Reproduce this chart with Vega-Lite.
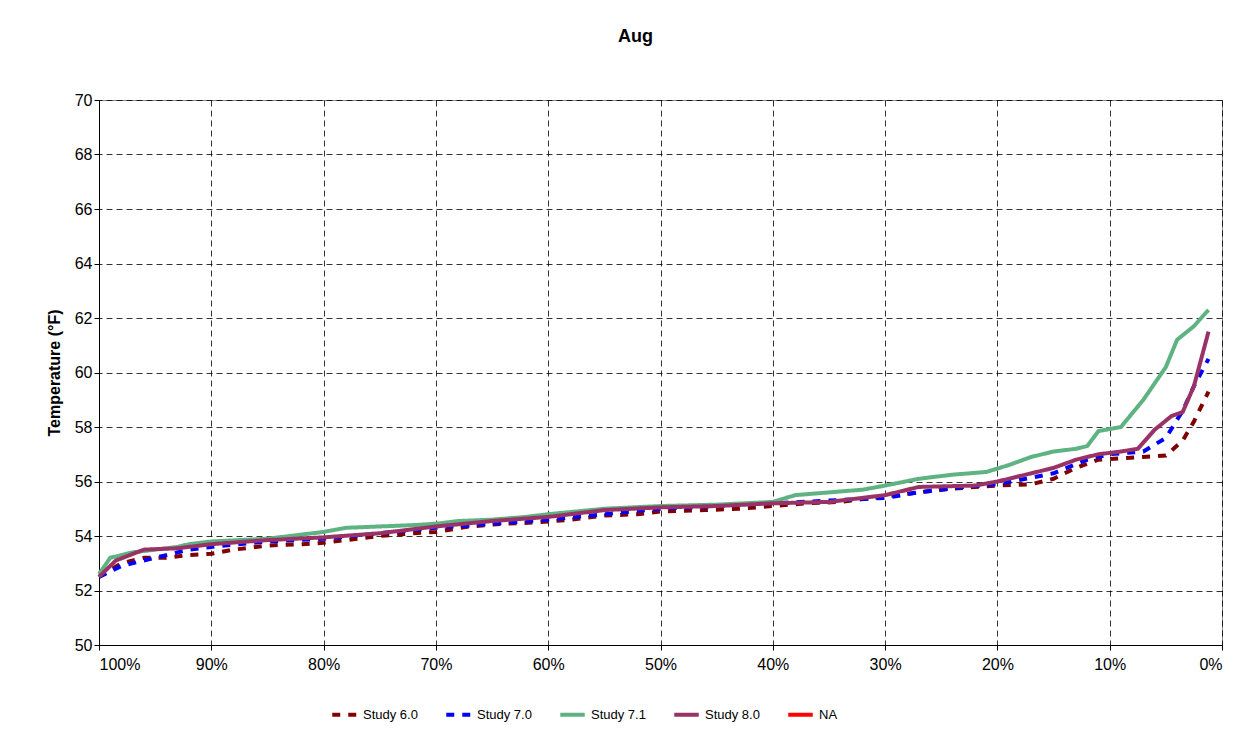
{"$schema":"https://vega.github.io/schema/vega-lite/v6.json","width":1123,"height":545,"autosize":"none","padding":{"left":99,"top":100,"right":38,"bottom":90},
"background":"white",
"title":{"text":"Aug","font":"Liberation Sans","fontSize":18,"fontWeight":"bold","offset":46,"dx":-25,"color":"black"},
"config":{"view":{"stroke":"#888"},"font":"Liberation Sans"},
"data":{"values":[
{"s":"Study 6.0","p":100,"t":52.5},{"s":"Study 6.0","p":98,"t":53.0},{"s":"Study 6.0","p":96,"t":53.2},{"s":"Study 6.0","p":94,"t":53.2},{"s":"Study 6.0","p":92,"t":53.3},{"s":"Study 6.0","p":90,"t":53.35},{"s":"Study 6.0","p":88,"t":53.5},{"s":"Study 6.0","p":85,"t":53.65},{"s":"Study 6.0","p":82,"t":53.7},{"s":"Study 6.0","p":80,"t":53.75},{"s":"Study 6.0","p":78,"t":53.85},{"s":"Study 6.0","p":75,"t":54.0},{"s":"Study 6.0","p":72,"t":54.1},{"s":"Study 6.0","p":70,"t":54.15},{"s":"Study 6.0","p":67,"t":54.35},{"s":"Study 6.0","p":64,"t":54.45},{"s":"Study 6.0","p":61,"t":54.5},{"s":"Study 6.0","p":58,"t":54.6},{"s":"Study 6.0","p":55,"t":54.75},{"s":"Study 6.0","p":52,"t":54.8},{"s":"Study 6.0","p":50,"t":54.9},{"s":"Study 6.0","p":46,"t":54.95},{"s":"Study 6.0","p":43,"t":55.0},{"s":"Study 6.0","p":40,"t":55.1},{"s":"Study 6.0","p":37,"t":55.2},{"s":"Study 6.0","p":34,"t":55.25},{"s":"Study 6.0","p":31,"t":55.4},{"s":"Study 6.0","p":28,"t":55.55},{"s":"Study 6.0","p":25,"t":55.7},{"s":"Study 6.0","p":22,"t":55.8},{"s":"Study 6.0","p":20,"t":55.85},{"s":"Study 6.0","p":17,"t":55.9},{"s":"Study 6.0","p":15,"t":56.1},{"s":"Study 6.0","p":13,"t":56.5},{"s":"Study 6.0","p":11,"t":56.8},{"s":"Study 6.0","p":9,"t":56.85},{"s":"Study 6.0","p":7,"t":56.9},{"s":"Study 6.0","p":5,"t":56.95},{"s":"Study 6.0","p":3.5,"t":57.5},{"s":"Study 6.0","p":2.5,"t":58.2},{"s":"Study 6.0","p":1.2,"t":59.3},
{"s":"Study 7.0","p":100,"t":52.5},{"s":"Study 7.0","p":98,"t":52.9},{"s":"Study 7.0","p":96,"t":53.1},{"s":"Study 7.0","p":94,"t":53.3},{"s":"Study 7.0","p":92,"t":53.5},{"s":"Study 7.0","p":90,"t":53.6},{"s":"Study 7.0","p":85,"t":53.8},{"s":"Study 7.0","p":80,"t":53.9},{"s":"Study 7.0","p":75,"t":54.1},{"s":"Study 7.0","p":70,"t":54.3},{"s":"Study 7.0","p":65,"t":54.45},{"s":"Study 7.0","p":60,"t":54.6},{"s":"Study 7.0","p":55,"t":54.8},{"s":"Study 7.0","p":50,"t":55.0},{"s":"Study 7.0","p":45,"t":55.1},{"s":"Study 7.0","p":40,"t":55.2},{"s":"Study 7.0","p":35,"t":55.3},{"s":"Study 7.0","p":30,"t":55.4},{"s":"Study 7.0","p":27,"t":55.6},{"s":"Study 7.0","p":23,"t":55.8},{"s":"Study 7.0","p":20,"t":55.9},{"s":"Study 7.0","p":15,"t":56.3},{"s":"Study 7.0","p":12,"t":56.8},{"s":"Study 7.0","p":10,"t":57.0},{"s":"Study 7.0","p":7,"t":57.1},{"s":"Study 7.0","p":5,"t":57.6},{"s":"Study 7.0","p":3.5,"t":58.6},{"s":"Study 7.0","p":2.5,"t":59.5},{"s":"Study 7.0","p":1.2,"t":60.5},
{"s":"Study 7.1","p":100,"t":52.6},{"s":"Study 7.1","p":99,"t":53.2},{"s":"Study 7.1","p":97,"t":53.4},{"s":"Study 7.1","p":95,"t":53.5},{"s":"Study 7.1","p":93,"t":53.6},{"s":"Study 7.1","p":92,"t":53.7},{"s":"Study 7.1","p":90,"t":53.8},{"s":"Study 7.1","p":85,"t":53.9},{"s":"Study 7.1","p":83,"t":54.0},{"s":"Study 7.1","p":80,"t":54.15},{"s":"Study 7.1","p":78,"t":54.3},{"s":"Study 7.1","p":75,"t":54.35},{"s":"Study 7.1","p":72,"t":54.4},{"s":"Study 7.1","p":70,"t":54.45},{"s":"Study 7.1","p":68,"t":54.55},{"s":"Study 7.1","p":65,"t":54.6},{"s":"Study 7.1","p":62,"t":54.7},{"s":"Study 7.1","p":60,"t":54.8},{"s":"Study 7.1","p":55,"t":55.0},{"s":"Study 7.1","p":50,"t":55.1},{"s":"Study 7.1","p":45,"t":55.15},{"s":"Study 7.1","p":40,"t":55.25},{"s":"Study 7.1","p":38,"t":55.5},{"s":"Study 7.1","p":35,"t":55.6},{"s":"Study 7.1","p":32,"t":55.7},{"s":"Study 7.1","p":30,"t":55.85},{"s":"Study 7.1","p":27,"t":56.1},{"s":"Study 7.1","p":24,"t":56.25},{"s":"Study 7.1","p":21,"t":56.35},{"s":"Study 7.1","p":19,"t":56.6},{"s":"Study 7.1","p":17,"t":56.9},{"s":"Study 7.1","p":15,"t":57.1},{"s":"Study 7.1","p":13,"t":57.2},{"s":"Study 7.1","p":12,"t":57.3},{"s":"Study 7.1","p":11,"t":57.85},{"s":"Study 7.1","p":9,"t":58.0},{"s":"Study 7.1","p":8,"t":58.5},{"s":"Study 7.1","p":7,"t":59.0},{"s":"Study 7.1","p":6,"t":59.6},{"s":"Study 7.1","p":5,"t":60.2},{"s":"Study 7.1","p":4,"t":61.2},{"s":"Study 7.1","p":2.5,"t":61.7},{"s":"Study 7.1","p":1.2,"t":62.3},
{"s":"Study 8.0","p":100,"t":52.5},{"s":"Study 8.0","p":98.5,"t":53.1},{"s":"Study 8.0","p":96,"t":53.5},{"s":"Study 8.0","p":93,"t":53.55},{"s":"Study 8.0","p":90,"t":53.7},{"s":"Study 8.0","p":85,"t":53.85},{"s":"Study 8.0","p":80,"t":53.95},{"s":"Study 8.0","p":75,"t":54.1},{"s":"Study 8.0","p":70,"t":54.35},{"s":"Study 8.0","p":65,"t":54.55},{"s":"Study 8.0","p":60,"t":54.7},{"s":"Study 8.0","p":55,"t":54.95},{"s":"Study 8.0","p":50,"t":55.05},{"s":"Study 8.0","p":45,"t":55.1},{"s":"Study 8.0","p":40,"t":55.2},{"s":"Study 8.0","p":35,"t":55.25},{"s":"Study 8.0","p":30,"t":55.5},{"s":"Study 8.0","p":27,"t":55.8},{"s":"Study 8.0","p":22,"t":55.85},{"s":"Study 8.0","p":20,"t":56.0},{"s":"Study 8.0","p":17,"t":56.3},{"s":"Study 8.0","p":15,"t":56.5},{"s":"Study 8.0","p":13,"t":56.8},{"s":"Study 8.0","p":11,"t":57.0},{"s":"Study 8.0","p":9,"t":57.1},{"s":"Study 8.0","p":7.5,"t":57.2},{"s":"Study 8.0","p":6,"t":57.9},{"s":"Study 8.0","p":4.5,"t":58.4},{"s":"Study 8.0","p":3.5,"t":58.55},{"s":"Study 8.0","p":2.5,"t":59.5},{"s":"Study 8.0","p":1.2,"t":61.5}
]},
"mark":{"type":"line","interpolate":"linear"},
"encoding":{
"x":{"field":"p","type":"quantitative","scale":{"domain":[0,100],"reverse":true,"nice":false},"axis":{"values":[0,10,20,30,40,50,60,70,80,90,100],"labelExpr":"datum.value+'%'","title":null,"labelFontSize":16,"labelColor":"black","gridDash":[6,4],"gridColor":"#000","gridOpacity":0.8,"domainColor":"#000","tickColor":"#000","labelPadding":6}},
"y":{"field":"t","type":"quantitative","scale":{"domain":[50,70],"nice":false},"axis":{"values":[50,52,54,56,58,60,62,64,66,68,70],"title":"Temperature (°F)","titleFontSize":16,"titleFontWeight":"bold","titleColor":"black","labelFontSize":16,"labelColor":"black","gridDash":[6,4],"gridColor":"#000","gridOpacity":0.8,"domainColor":"#000","tickColor":"#000","titlePadding":12}},
"color":{"field":"s","type":"nominal","scale":{"domain":["Study 6.0","Study 7.0","Study 7.1","Study 8.0","NA"],"range":["#800000","#0000ff","#5fb383","#993366","#ff0000"]},"legend":{"orient":"none","legendX":231,"legendY":600,"direction":"horizontal","title":null,"symbolType":"stroke","symbolSize":600,"symbolStrokeWidth":3,"labelFontSize":13,"labelColor":"black","columnPadding":20}},
"strokeDash":{"field":"s","type":"nominal","scale":{"domain":["Study 6.0","Study 7.0","Study 7.1","Study 8.0","NA"],"range":[[8,8],[8,8],[1,0],[1,0],[1,0]]},"legend":null},
"strokeWidth":{"field":"s","type":"nominal","scale":{"domain":["Study 6.0","Study 7.0","Study 7.1","Study 8.0","NA"],"range":[4,4,4,2,2]},"legend":null}
}}
